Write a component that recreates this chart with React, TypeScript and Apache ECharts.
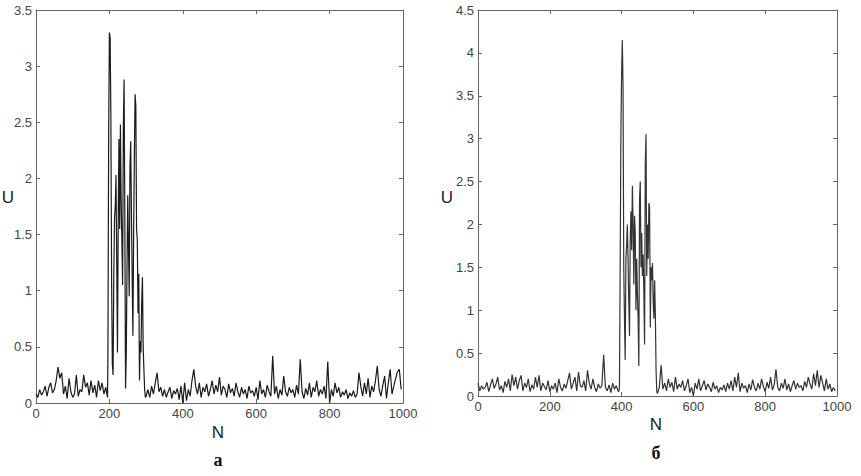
import React, { useEffect, useRef } from "react";
import * as echarts from "echarts";

const X_TICKS = [0, 200, 400, 600, 800, 1000];

// ---- Chart "а" ----
// quiet part before the burst: N = 0, 5, ... 195
const preA: number[] = [
  0.08, 0.05, 0.12, 0.07, 0.1, 0.15, 0.06, 0.14, 0.18, 0.09,
  0.12, 0.2, 0.32, 0.22, 0.27, 0.08, 0.15, 0.04, 0.22, 0.1,
  0.05, 0.08, 0.25, 0.06, 0.12, 0.1, 0.25, 0.14, 0.18, 0.07,
  0.2, 0.09, 0.16, 0.05, 0.2, 0.11, 0.18, 0.08, 0.14, 0.05,
];
// burst: N = 196, 198, ... 300
const burstA: number[] = [
  0.45, 2.4, 3.3, 3.25, 2.55, 1.1, 0.35, 0.25, 1.15, 1.65,
  1.75, 2.03, 1.25, 0.45, 1.6, 2.35, 1.55, 2.48, 1.8, 1.45,
  1.05, 2.45, 2.88, 1.7, 0.13, 0.45, 1.2, 1.85, 1.4, 0.95,
  2.1, 2.33, 1.7, 1.15, 0.6, 1.5, 2.2, 2.75, 2.65, 1.55,
  1.45, 0.8, 1.15, 0.2, 0.55, 0.45, 0.9, 1.12, 0.5, 0.3,
  0.12, 0.05, 0.06,
];
// quiet part after the burst: N = 305, 310, ... 995
const postA: number[] = [
  0.12, 0.05, 0.15, 0.08, 0.18, 0.27, 0.1, 0.14, 0.06,
  0.12, 0.05, 0.1, 0.14, 0.04, 0.11, 0.08, 0.13, 0.03, 0.15,
  0.0, 0.18, 0.02, 0.12, 0.06, 0.2, 0.3, 0.15, 0.08, 0.18,
  0.05, 0.14, 0.1, 0.17, 0.06, 0.12, 0.2, 0.08, 0.16, 0.1,
  0.23, 0.07, 0.15, 0.12, 0.05, 0.17, 0.09, 0.13, 0.06, 0.18,
  0.1, 0.05, 0.14, 0.08, 0.12, 0.04, 0.15, 0.09, 0.11, 0.06,
  0.14, 0.03, 0.2, 0.08, 0.12, 0.05, 0.16, 0.1, 0.06, 0.42,
  0.08, 0.15, 0.04, 0.12, 0.07, 0.24, 0.1, 0.06, 0.14, 0.09,
  0.12, 0.05, 0.16, 0.08, 0.39, 0.1, 0.04, 0.13, 0.07, 0.18,
  0.05, 0.14, 0.1, 0.2, 0.06, 0.12, 0.08, 0.15, 0.04, 0.37,
  0.0, 0.12, 0.06, 0.18, 0.09, 0.14, 0.05, 0.1, 0.07, 0.12,
  0.04, 0.09, 0.06, 0.11, 0.05, 0.08, 0.27, 0.15, 0.06, 0.18,
  0.08, 0.22, 0.05, 0.15, 0.1, 0.2, 0.33, 0.12, 0.06, 0.16,
  0.24, 0.04, 0.18, 0.3, 0.08, 0.15, 0.22, 0.28, 0.3, 0.12,
];

// ---- Chart "б" ----
// quiet part before the burst: N = 0, 5, ... 390
const preB: number[] = [
  0.15, 0.06, 0.12, 0.08, 0.1, 0.16, 0.05, 0.13, 0.2, 0.09,
  0.14, 0.22, 0.07, 0.12, 0.04, 0.17, 0.1, 0.2, 0.06, 0.25,
  0.12, 0.22, 0.08, 0.18, 0.24, 0.06, 0.15, 0.1, 0.2, 0.05,
  0.13, 0.08, 0.22, 0.1, 0.24, 0.06, 0.15, 0.11, 0.07, 0.18,
  0.05, 0.12, 0.08, 0.15, 0.04, 0.2, 0.1, 0.06, 0.14, 0.09,
  0.18, 0.27, 0.08, 0.15, 0.22, 0.06, 0.28, 0.12, 0.1, 0.18,
  0.06, 0.3, 0.15, 0.08, 0.2, 0.1, 0.05, 0.14, 0.09, 0.12,
  0.48, 0.1, 0.06, 0.13, 0.04, 0.15, 0.08, 0.12, 0.06,
];
// burst: N = 392, 394, ... 500
const burstB: number[] = [
  0.05, 0.1, 1.5, 3.05, 3.75, 4.15, 3.6, 1.5, 0.9, 0.42,
  1.6, 1.75, 2.0, 1.6, 1.1, 0.7, 1.8, 2.15, 1.7, 2.45,
  2.0, 1.3, 2.1, 1.9, 1.0, 1.6, 1.2, 0.9, 0.35, 2.3,
  2.5, 1.5, 1.9, 1.4, 1.65, 1.2, 0.6, 2.7, 3.05, 1.4,
  2.0, 1.6, 2.25, 2.2, 0.8, 1.5, 1.35, 1.55, 1.1, 0.9,
  1.35, 0.95, 0.3, 0.05, 0.03,
];
// quiet part after the burst: N = 505, 510, ... 995
const postB: number[] = [
  0.1, 0.36, 0.08, 0.15, 0.06, 0.2, 0.1, 0.16, 0.05,
  0.22, 0.08, 0.14, 0.1, 0.18, 0.06, 0.12, 0.2, 0.04, 0.1,
  0.0, 0.15, 0.08, 0.2, 0.06, 0.12, 0.18, 0.07, 0.14, 0.1,
  0.05, 0.16, 0.08, 0.12, 0.04, 0.1, 0.07, 0.13, 0.05, 0.15,
  0.08, 0.18, 0.06, 0.22, 0.1, 0.27, 0.05, 0.15, 0.09, 0.12,
  0.04, 0.14, 0.07, 0.19, 0.1, 0.06, 0.15, 0.08, 0.2, 0.11,
  0.05, 0.16, 0.09, 0.22, 0.07, 0.13, 0.31, 0.1, 0.06, 0.15,
  0.09, 0.2, 0.07, 0.14, 0.05, 0.12, 0.18, 0.08, 0.15, 0.1,
  0.12, 0.06, 0.17, 0.1, 0.22, 0.14, 0.08, 0.26, 0.12, 0.3,
  0.1, 0.24, 0.15, 0.06, 0.2, 0.08, 0.14, 0.05, 0.1, 0.06,
];

const Y_MAX_A = 3.5;
const Y_MAX_B = 4.5;

const FONT = "'Liberation Sans', Arial, sans-serif";
const AXIS_COLOR = "#666";
const LABEL_COLOR = "#444";

function toPoints(values: number[], start: number, step: number) {
  return values.map((v, i) => [start + i * step, v]);
}

function xAxis(gridIndex: number, top: boolean) {
  return {
    type: "value" as const,
    gridIndex,
    position: top ? "top" : "bottom",
    min: X_TICKS[0],
    max: X_TICKS[X_TICKS.length - 1],
    interval: 200,
    axisLine: { show: true, onZero: false, lineStyle: { color: AXIS_COLOR, width: 1 } },
    axisTick: { show: true, inside: true, length: 4, lineStyle: { color: AXIS_COLOR } },
    axisLabel: {
      show: !top,
      color: LABEL_COLOR,
      fontSize: 13,
      fontFamily: FONT,
      margin: 4,
      formatter: (v: number) => String(v),
    },
    splitLine: { show: false },
  };
}

function yAxis(gridIndex: number, right: boolean, max: number) {
  return {
    type: "value" as const,
    gridIndex,
    position: right ? "right" : "left",
    min: 0,
    max,
    interval: 0.5,
    axisLine: { show: true, onZero: false, lineStyle: { color: AXIS_COLOR, width: 1 } },
    axisTick: { show: true, inside: true, length: 4, lineStyle: { color: AXIS_COLOR } },
    axisLabel: {
      show: !right,
      color: LABEL_COLOR,
      fontSize: 13,
      fontFamily: FONT,
      margin: 4,
      formatter: (v: number) => String(v),
    },
    splitLine: { show: false },
  };
}

export default function App() {
  const ref = useRef<HTMLDivElement>(null);

  useEffect(() => {
    if (!ref.current) return;
    const chart = echarts.init(ref.current, undefined, { renderer: "svg" });
    const dataA = [
      ...toPoints(preA, 0, 5),
      ...toPoints(burstA, 196, 2),
      ...toPoints(postA, 305, 5),
    ];
    const dataB = [
      ...toPoints(preB, 0, 5),
      ...toPoints(burstB, 392, 2),
      ...toPoints(postB, 505, 5),
    ];

    chart.setOption({
      animation: false,
      backgroundColor: "#fff",
      grid: [
        { left: 36, top: 10, width: 367, height: 393 },
        { left: 478, top: 10, width: 359, height: 386 },
      ],
      xAxis: [xAxis(0, false), xAxis(0, true), xAxis(1, false), xAxis(1, true)],
      yAxis: [
        yAxis(0, false, Y_MAX_A),
        yAxis(0, true, Y_MAX_A),
        yAxis(1, false, Y_MAX_B),
        yAxis(1, true, Y_MAX_B),
      ],
      series: [
        {
          type: "line",
          xAxisIndex: 0,
          yAxisIndex: 0,
          data: dataA,
          showSymbol: false,
          symbol: "none",
          lineStyle: { color: "#1a1a1a", width: 1.2 },
        },
        {
          type: "line",
          xAxisIndex: 2,
          yAxisIndex: 2,
          data: dataB,
          showSymbol: false,
          symbol: "none",
          lineStyle: { color: "#333", width: 1.2 },
        },
      ],
      graphic: [
        {
          type: "text",
          x: 8,
          y: 197,
          style: { text: "U", fill: "#222", font: `17px ${FONT}`, align: "center", verticalAlign: "middle" },
        },
        {
          type: "text",
          x: 218,
          y: 432,
          style: { text: "N", fill: "#222", font: `17px ${FONT}`, align: "center", verticalAlign: "middle" },
        },
        {
          type: "text",
          x: 218,
          y: 460,
          style: { text: "а", fill: "#111", font: `bold 18px 'Liberation Serif', 'DejaVu Serif', serif`, align: "center", verticalAlign: "middle" },
        },
        {
          type: "text",
          x: 447,
          y: 197,
          style: { text: "U", fill: "#222", font: `17px ${FONT}`, align: "center", verticalAlign: "middle" },
        },
        {
          type: "text",
          x: 656,
          y: 424,
          style: { text: "N", fill: "#222", font: `17px ${FONT}`, align: "center", verticalAlign: "middle" },
        },
        {
          type: "text",
          x: 656,
          y: 453,
          style: { text: "б", fill: "#111", font: `bold 18px 'Liberation Serif', 'DejaVu Serif', serif`, align: "center", verticalAlign: "middle" },
        },
      ],
    });
    return () => chart.dispose();
  }, []);

  return (
    <div
      ref={ref}
      style={{ position: "absolute", left: 0, top: 0, width: 861, height: 476 }}
    />
  );
}
